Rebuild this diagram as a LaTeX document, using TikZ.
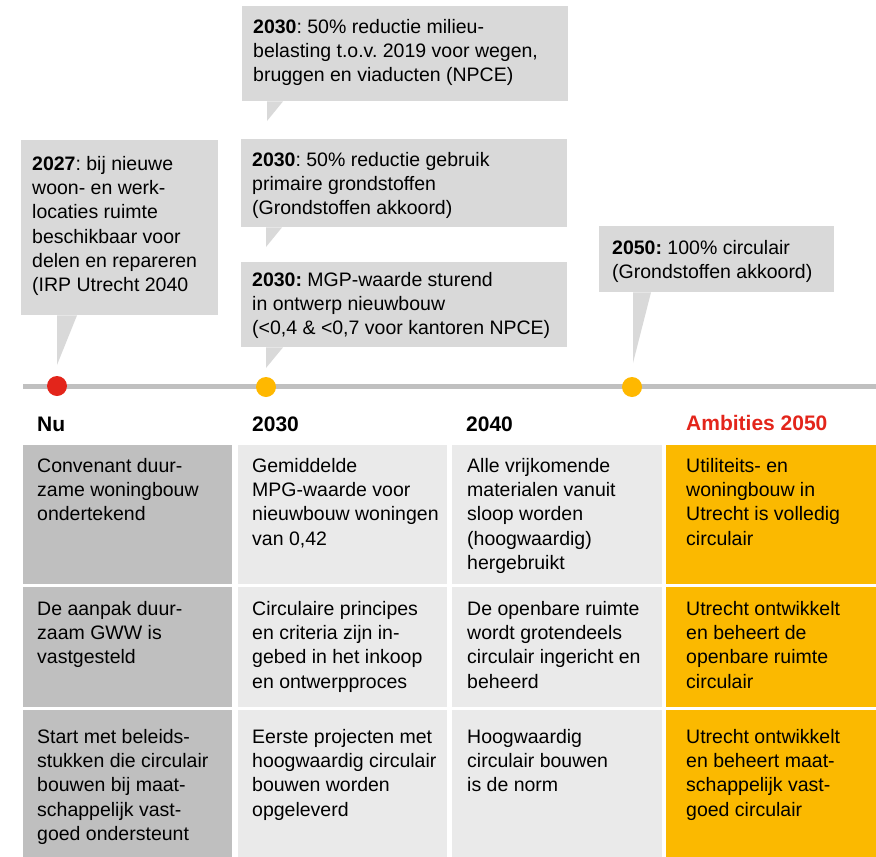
\documentclass[tikz,border=0pt]{standalone}
\usepackage{fontspec}
\setmainfont{Liberation Sans}
\usetikzlibrary{calc}
\frenchspacing

\definecolor{boxgray}{HTML}{D9D9D9}
\definecolor{linegray}{HTML}{C0C0C0}
\definecolor{nugray}{HTML}{BFBFBF}
\definecolor{lightgray}{HTML}{EAEAEA}
\definecolor{ambyellow}{HTML}{FBB900}
\definecolor{dotyellow}{HTML}{FFB800}
\definecolor{nured}{HTML}{E3251B}

\begin{document}
\begin{tikzpicture}[x=1pt, y=-1pt,
  callbox/.style={fill=boxgray, inner sep=0pt, anchor=north west},
  cellbox/.style={inner sep=0pt, anchor=north west},
  txt/.style={inner sep=0pt, anchor=north west, align=left, font=\fontsize{19.5}{24.3}\selectfont\frenchspacing},
  head/.style={inner sep=0pt, anchor=base west, font=\fontsize{21}{25}\selectfont\bfseries},
  dot/.style={circle, inner sep=0pt, minimum size=20pt}]

\useasboundingbox (0,0) rectangle (876,857);

% callouts above the timeline
\node[callbox, minimum width=197pt, minimum height=175pt] (c27) at (21,140) {};
\node[txt] (t27) at (32,156) {\textbf{2027}: bij nieuwe\\woon- en werk-\\locaties ruimte\\beschikbaar voor\\delen en repareren\\(IRP Utrecht 2040};

\node[callbox, minimum width=326pt, minimum height=95pt] (c30a) at (242,6) {};
\node[txt] (t30a) at (253,19) {\textbf{2030}: 50\% reductie milieu-\\belasting t.o.v. 2019 voor wegen,\\bruggen en viaducten (NPCE)};

\node[callbox, minimum width=326pt, minimum height=88pt] (c30b) at (241,139) {};
\node[txt] (t30b) at (252,152) {\textbf{2030}: 50\% reductie gebruik\\primaire grondstoffen\\(Grondstoffen akkoord)};

\node[callbox, minimum width=326pt, minimum height=85pt] (c30c) at (241,262) {};
\node[txt] (t30c) at (252,272) {\textbf{2030:} MGP-waarde sturend\\in ontwerp nieuwbouw\\(<0,4 \& <0,7 voor kantoren NPCE)};

\node[callbox, minimum width=235pt, minimum height=66pt] (c50) at (599,226) {};
\node[txt] (t50) at (612,240) {\textbf{2050:} 100\% circulair\\(Grondstoffen akkoord)};

% tails
\coordinate (tip27) at (57,365);
\coordinate (tip30a) at (267,121);
\coordinate (tip30b) at (266,247);
\coordinate (tip30c) at (266,368);
\coordinate (tip50) at (633,363);
\fill[boxgray] ($(c27.south west)+(36,0)$) -- ++(20,0) -- (tip27) -- cycle;
\fill[boxgray] ($(c30a.south west)+(25,0)$) -- ++(16,0) -- (tip30a) -- cycle;
\fill[boxgray] ($(c30b.south west)+(25,0)$) -- ++(16,0) -- (tip30b) -- cycle;
\fill[boxgray] ($(c30c.south west)+(25,0)$) -- ++(17,0) -- (tip30c) -- cycle;
\fill[boxgray] ($(c50.south west)+(34,0)$) -- ++(18,0) -- (tip50) -- cycle;

% timeline
\coordinate (tl0) at (23,386);
\coordinate (tl1) at (876,386);
\draw[linegray, line width=5pt] (tl0) -- (tl1);
\node[dot, fill=nured] (d27) at (57,386) {};
\node[dot, fill=dotyellow] (d30) at (266,387) {};
\node[dot, fill=dotyellow] (d50) at (632,387) {};

% column heads
\node[head] (hnu) at (37,431) {Nu};
\node[head] (h30) at (252,431) {2030};
\node[head] (h40) at (466,431) {2040};
\node[head, text=nured] (h50) at (686,430) {Ambities 2050};

% row 1
\node[cellbox, fill=nugray, minimum width=209pt, minimum height=139pt] (r1c1) at (23,445) {};
\node[cellbox, fill=lightgray, minimum width=209pt, minimum height=139pt] (r1c2) at (238,445) {};
\node[cellbox, fill=lightgray, minimum width=210pt, minimum height=139pt] (r1c3) at (452,445) {};
\node[cellbox, fill=ambyellow, minimum width=210pt, minimum height=139pt] (r1c4) at (666,445) {};
\node[txt] (r1t1) at (37,458) {Convenant duur-\\zame woningbouw\\ondertekend};
\node[txt] (r1t2) at (252,458) {Gemiddelde\\MPG-waarde voor\\nieuwbouw woningen\\van 0,42};
\node[txt] (r1t3) at (467,458) {Alle vrijkomende\\materialen vanuit\\sloop worden\\(hoogwaardig)\\hergebruikt};
\node[txt] (r1t4) at (686,458) {Utiliteits- en\\woningbouw in\\Utrecht is volledig\\circulair};

% row 2
\node[cellbox, fill=nugray, minimum width=209pt, minimum height=120pt] (r2c1) at (23,587) {};
\node[cellbox, fill=lightgray, minimum width=209pt, minimum height=120pt] (r2c2) at (238,587) {};
\node[cellbox, fill=lightgray, minimum width=210pt, minimum height=120pt] (r2c3) at (452,587) {};
\node[cellbox, fill=ambyellow, minimum width=210pt, minimum height=120pt] (r2c4) at (666,587) {};
\node[txt] (r2t1) at (37,601) {De aanpak duur-\\zaam GWW is\\vastgesteld};
\node[txt] (r2t2) at (252,601) {Circulaire principes\\en criteria zijn in-\\gebed in het inkoop\\en ontwerpproces};
\node[txt] (r2t3) at (467,601) {De openbare ruimte\\wordt grotendeels\\circulair ingericht en\\beheerd};
\node[txt] (r2t4) at (686,601) {Utrecht ontwikkelt\\en beheert de\\openbare ruimte\\circulair};

% row 3
\node[cellbox, fill=nugray, minimum width=209pt, minimum height=147pt] (r3c1) at (23,710) {};
\node[cellbox, fill=lightgray, minimum width=209pt, minimum height=147pt] (r3c2) at (238,710) {};
\node[cellbox, fill=lightgray, minimum width=210pt, minimum height=147pt] (r3c3) at (452,710) {};
\node[cellbox, fill=ambyellow, minimum width=210pt, minimum height=147pt] (r3c4) at (666,710) {};
\node[txt] (r3t1) at (37,729) {Start met beleids-\\stukken die circulair\\bouwen bij maat-\\schappelijk vast-\\goed ondersteunt};
\node[txt] (r3t2) at (252,729) {Eerste projecten met\\hoogwaardig circulair\\bouwen worden\\opgeleverd};
\node[txt] (r3t3) at (467,729) {Hoogwaardig\\circulair bouwen\\is de norm};
\node[txt] (r3t4) at (686,729) {Utrecht ontwikkelt\\en beheert maat-\\schappelijk vast-\\goed circulair};

\end{tikzpicture}
\end{document}
